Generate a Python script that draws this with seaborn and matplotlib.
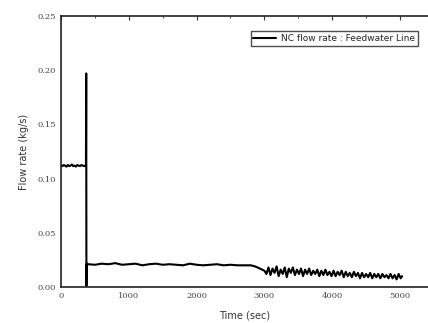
import numpy as np
import pandas as pd
import matplotlib
matplotlib.use("Agg")
import matplotlib.pyplot as plt
import seaborn as sns
from matplotlib.ticker import MultipleLocator

# Time (sec) and NC flow rate (kg/s)
time_pre = [0, 20, 40, 60, 80, 100, 120, 140, 160, 180, 200, 220, 240,
            260, 280, 300, 320, 340, 360, 368]
flow_pre = [0.112, 0.1115, 0.1125, 0.112, 0.111, 0.1125, 0.1115, 0.112,
            0.113, 0.1115, 0.112, 0.111, 0.1125, 0.112, 0.1115, 0.1125,
            0.112, 0.1115, 0.112, 0.112]

time_spike = [372, 375, 379, 383]
flow_spike = [0.197, 0.001, 0.021, 0.0215]

time_flat = [400, 500, 600, 700, 800, 900, 1000, 1100, 1200, 1300, 1400,
             1500, 1600, 1700, 1800, 1900, 2000, 2100, 2200, 2300, 2400,
             2500, 2600, 2700, 2800, 2850, 2900, 2950, 3000]
flow_flat = [0.021, 0.0205, 0.0215, 0.021, 0.022, 0.0205, 0.021, 0.0215,
             0.020, 0.021, 0.0215, 0.0205, 0.021, 0.0205, 0.020, 0.0215,
             0.0205, 0.020, 0.0205, 0.021, 0.020, 0.0205, 0.020, 0.020,
             0.0200, 0.0192, 0.0180, 0.0165, 0.0150]

time_osc = [3030, 3060, 3090, 3120, 3150, 3180, 3210, 3240, 3270, 3300,
            3330, 3360, 3390, 3420, 3450, 3480, 3510, 3540, 3570, 3600,
            3630, 3660, 3690, 3720, 3750, 3780, 3810, 3840, 3870, 3900,
            3930, 3960, 3990, 4020, 4050, 4080, 4110, 4140, 4170, 4200,
            4230, 4260, 4290, 4320, 4350, 4380, 4410, 4440, 4470, 4500,
            4530, 4560, 4590, 4620, 4650, 4680, 4710, 4740, 4770, 4800,
            4830, 4860, 4890, 4920, 4950, 4980, 5010, 5030]
flow_osc = [0.012, 0.018, 0.011, 0.017, 0.013, 0.019, 0.010, 0.016, 0.012,
            0.018, 0.009, 0.017, 0.013, 0.018, 0.011, 0.016, 0.012, 0.017,
            0.010, 0.016, 0.012, 0.017, 0.011, 0.015, 0.012, 0.016, 0.010,
            0.015, 0.011, 0.016, 0.011, 0.014, 0.010, 0.015, 0.010, 0.014,
            0.011, 0.015, 0.009, 0.014, 0.010, 0.013, 0.009, 0.014, 0.010,
            0.013, 0.008, 0.013, 0.009, 0.012, 0.009, 0.013, 0.008, 0.012,
            0.009, 0.012, 0.008, 0.012, 0.009, 0.011, 0.008, 0.012, 0.008,
            0.011, 0.007, 0.012, 0.008, 0.010]

df = pd.DataFrame({
    "time": time_pre + time_spike + time_flat + time_osc,
    "flow": flow_pre + flow_spike + flow_flat + flow_osc,
})

sns.set_style("white")
plt.rcParams["font.family"] = ["DejaVu Sans"]

fig = plt.figure(figsize=(4.28, 3.23), dpi=100)
ax = fig.add_axes([0.1425, 0.1115, 0.8575, 0.839])

sns.lineplot(data=df, x="time", y="flow", ax=ax, color="black",
             linewidth=1.5, estimator=None, sort=False,
             label="NC flow rate : Feedwater Line")

ax.set_xlim(0, 5413)
ax.xaxis.set_major_locator(MultipleLocator(1000))
ax.xaxis.set_minor_locator(MultipleLocator(500))
ax.yaxis.set_minor_locator(MultipleLocator(0.025))
yticks = [0.0, 0.05, 0.10, 0.15, 0.20, 0.25]
ax.set_yticks(yticks)
ax.set_yticklabels([f"{v:.2f}" for v in yticks], family="DejaVu Serif")
ax.set_ylim(0, 0.25)
ax.tick_params(which="both", direction="in", top=True, right=False,
               colors="#333333", labelcolor="#444444")
ax.tick_params(which="major", length=3, width=0.8, labelsize=6)
ax.tick_params(which="minor", length=1.5, width=0.6)
for lab in ax.get_xticklabels():
    lab.set_family("DejaVu Serif")

for side in ["left", "bottom", "top"]:
    ax.spines[side].set_color("#222222")
    ax.spines[side].set_linewidth(1.2)
ax.spines["right"].set_visible(False)

ax.set_xlabel("Time (sec)", fontsize=7, color="#333333", labelpad=8)
ax.set_ylabel("Flow rate (kg/s)", fontsize=7, color="#333333", labelpad=6)

leg = ax.legend(loc="upper right", bbox_to_anchor=(0.985, 0.96), fontsize=6.5,
                frameon=True, fancybox=False, handlelength=2.5,
                borderpad=0.3, handletextpad=0.6)
leg.get_frame().set_edgecolor("#222222")
leg.get_frame().set_linewidth(1.0)

fig.savefig("out.png", dpi=100)
